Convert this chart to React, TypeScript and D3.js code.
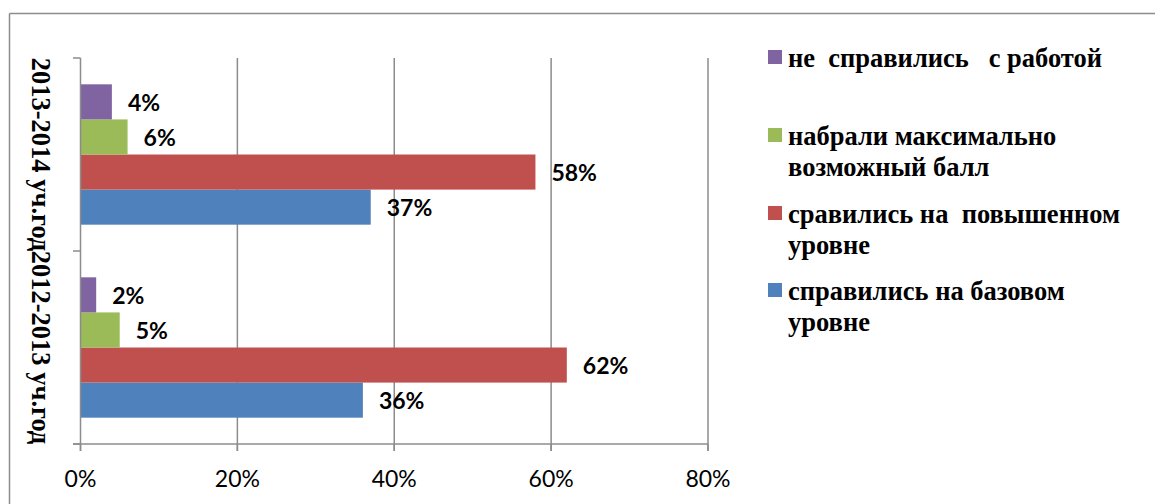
import React from "react";
import * as d3 from "d3";

const categories = ["2013-2014 уч.год", "2012-2013 уч.год"];
// series in Excel order (first = bottom bar in each group)
const seriesNames = [
  "справились на базовом уровне",
  "сравились на  повышенном уровне",
  "набрали максимально возможный балл",
  "не  справились   с работой",
];
const legendLines = [
  ["справились на базовом", "уровне"],
  ["сравились на  повышенном", "уровне"],
  ["набрали максимально", "возможный балл"],
  ["не  справились   с работой"],
];
const seriesColors = ["#4F81BD", "#C0504D", "#9BBB59", "#8064A2"];
// values per series, aligned with categories
const baseLevel = [0.37, 0.36];
const highLevel = [0.58, 0.62];
const maxScore = [0.06, 0.05];
const failed = [0.04, 0.02];
const seriesValues = [baseLevel, highLevel, maxScore, failed];
const xTicks = [0, 0.2, 0.4, 0.6, 0.8];

const W = 1155;
const H = 504;
const grid = "#8c8c8c";
const SERIF = "Liberation Serif, Times New Roman, serif";
const SANS = "Lato, Open Sans, sans-serif";

export default function App() {
  const x = d3.scaleLinear().domain([0, 0.8]).range([80.5, 708]);
  const y = d3.scaleBand<string>().domain(categories).range([58, 444]).padding(0);
  // inner band: top-to-bottom = last series first
  const inner = d3
    .scaleBand<number>()
    .domain([3, 2, 1, 0])
    .range([0, y.bandwidth()])
    .paddingInner(0)
    .paddingOuter(0.75);
  const pct = d3.format(".0%");

  return (
    <svg
      width={W}
      height={H}
      style={{ position: "absolute", left: 0, top: 0, background: "#fff" }}
    >
      <rect x={0} y={0} width={W} height={H} fill="#fff" />
      {/* outer frame */}
      <line x1={9.5} y1={13.5} x2={W} y2={13.5} stroke={grid} strokeWidth={1.5} />
      <line x1={9.5} y1={13.5} x2={9.5} y2={H} stroke={grid} strokeWidth={1.5} />

      {/* gridlines */}
      {xTicks.slice(1).map((t) => (
        <line key={t} x1={x(t)} x2={x(t)} y1={58} y2={451} stroke={grid} strokeWidth={1.5} />
      ))}

      {/* bars */}
      {categories.map((c, ci) =>
        seriesValues.map((vals, si) => (
          <rect
            key={c + si}
            x={x(0)}
            y={(y(c) as number) + (inner(si) as number)}
            width={x(vals[ci]) - x(0)}
            height={inner.bandwidth()}
            fill={seriesColors[si]}
          />
        ))
      )}

      {/* axes */}
      <line x1={x(0)} x2={x(0)} y1={58} y2={451} stroke={grid} strokeWidth={1.5} />
      <line x1={73} x2={x(0.8)} y1={444} y2={444} stroke={grid} strokeWidth={1.5} />
      {[58, 251, 444].map((v) => (
        <line key={v} x1={73} x2={x(0)} y1={v} y2={v} stroke={grid} strokeWidth={1.5} />
      ))}
      {xTicks.map((t) => (
        <line key={"t" + t} x1={x(t)} x2={x(t)} y1={444} y2={451} stroke={grid} strokeWidth={1.5} />
      ))}

      {/* x tick labels */}
      {xTicks.map((t) => (
        <text
          key={"l" + t}
          x={x(t)}
          y={487}
          textAnchor="middle"
          style={{ fontFamily: SANS, fontSize: "23px" }}
          fill="#000"
        >
          {pct(t)}
        </text>
      ))}

      {/* category labels */}
      {categories.map((c) => {
        const cy = (y(c) as number) + y.bandwidth() / 2;
        return (
          <text
            key={c}
            x={32}
            y={cy}
            transform={`rotate(90, 32, ${cy})`}
            textAnchor="middle"
            style={{ fontFamily: SERIF, fontWeight: 700, fontSize: "26.5px" }}
            fill="#000"
          >
            {c}
          </text>
        );
      })}

      {/* data labels */}
      {categories.map((c, ci) =>
        seriesValues.map((vals, si) => (
          <text
            key={"d" + c + si}
            x={x(vals[ci]) + 16}
            y={(y(c) as number) + (inner(si) as number) + inner.bandwidth() / 2}
            dominantBaseline="central"
            style={{ fontFamily: SANS, fontWeight: 700, fontSize: "23px" }}
            fill="#000"
          >
            {pct(vals[ci])}
          </text>
        ))
      )}

      {/* legend */}
      {[3, 2, 1, 0].map((si, i) => {
        const base = [67, 145, 223, 300][i];
        return (
          <g key={"lg" + si}>
            <rect x={768} y={base - 17} width={14} height={14} fill={seriesColors[si]} />
            {legendLines[si].map((ln, li) => (
              <text
                key={li}
                x={788}
                y={base + li * 31}
                fill="#000"
                style={{
                  fontFamily: SERIF,
                  fontWeight: 700,
                  fontSize: "26.5px",
                  whiteSpace: "pre",
                }}
              >
                {ln}
              </text>
            ))}
          </g>
        );
      })}
    </svg>
  );
}
